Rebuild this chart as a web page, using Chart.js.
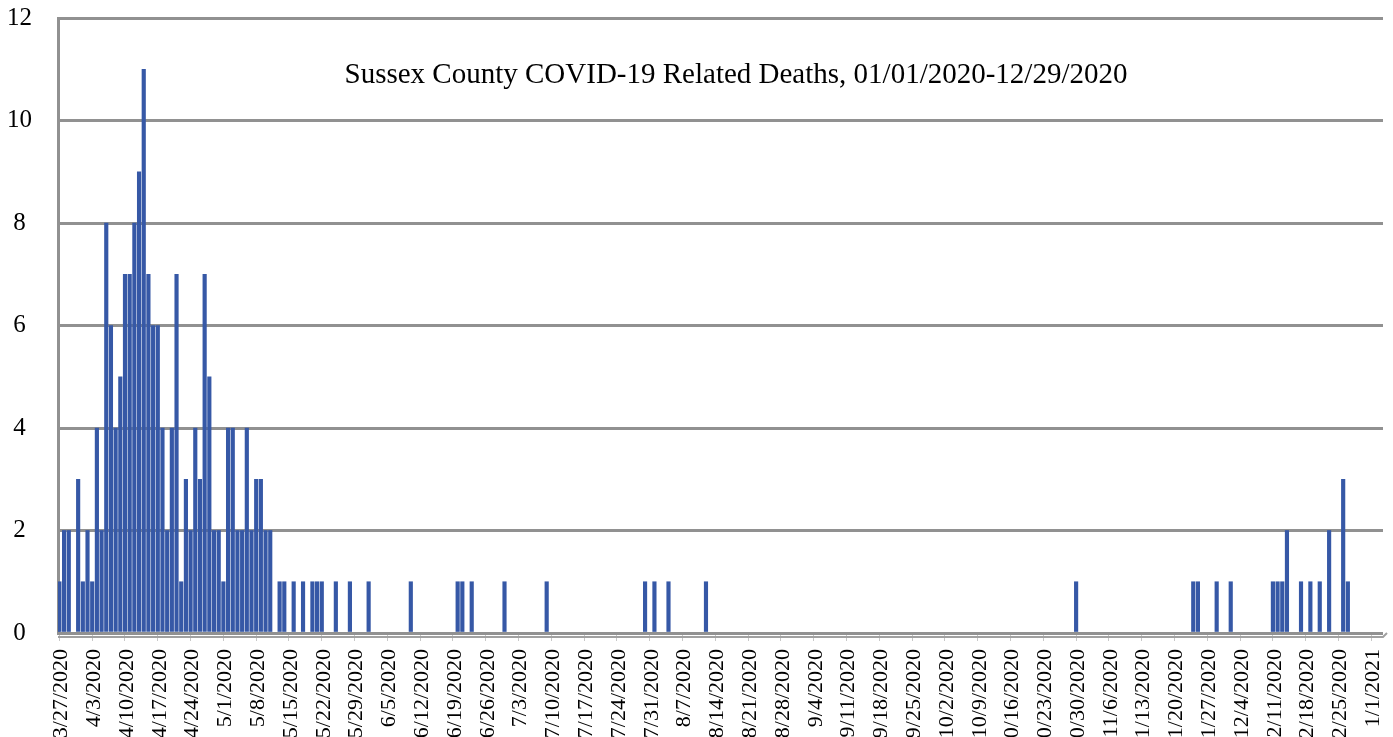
<!DOCTYPE html>
<html>
<head>
<meta charset="utf-8">
<script src="https://cdn.jsdelivr.net/npm/chart.js@4.4.1/dist/chart.umd.min.js"></script>
<style>
  html, body { margin: 0; padding: 0; background: #fff; overflow: hidden; }
  #clip { width: 1393px; height: 737px; overflow: hidden; }
  #box { width: 1393px; height: 752px; }
</style>
</head>
<body>
<div id="clip"><div id="box"><canvas id="chart"></canvas></div></div>
<script>
/* eslint-disable no-undef */
const chartTitle = 'Sussex County COVID-19 Related Deaths, 01/01/2020-12/29/2020'
const startDate = '3/27/2020'

// weekly labels on the date axis
const tickLabels = [
  '3/27/2020', '4/3/2020', '4/10/2020', '4/17/2020', '4/24/2020', '5/1/2020', '5/8/2020',
  '5/15/2020', '5/22/2020', '5/29/2020', '6/5/2020', '6/12/2020', '6/19/2020', '6/26/2020',
  '7/3/2020', '7/10/2020', '7/17/2020', '7/24/2020', '7/31/2020', '8/7/2020', '8/14/2020',
  '8/21/2020', '8/28/2020', '9/4/2020', '9/11/2020', '9/18/2020', '9/25/2020', '10/2/2020',
  '10/9/2020', '10/16/2020', '10/23/2020', '10/30/2020', '11/6/2020', '11/13/2020',
  '11/20/2020', '11/27/2020', '12/4/2020', '12/11/2020', '12/18/2020', '12/25/2020', '1/1/2021'
]

// days with at least one death (all other days are 0)
const deathDates = [
  '3/27/2020', '3/28/2020', '3/29/2020', '3/31/2020', '4/1/2020', '4/2/2020', '4/3/2020',
  '4/4/2020', '4/5/2020', '4/6/2020', '4/7/2020', '4/8/2020', '4/9/2020', '4/10/2020',
  '4/11/2020', '4/12/2020', '4/13/2020', '4/14/2020', '4/15/2020', '4/16/2020', '4/17/2020',
  '4/18/2020', '4/19/2020', '4/20/2020', '4/21/2020', '4/22/2020', '4/23/2020', '4/24/2020',
  '4/25/2020', '4/26/2020', '4/27/2020', '4/28/2020', '4/29/2020', '4/30/2020', '5/1/2020',
  '5/2/2020', '5/3/2020', '5/4/2020', '5/5/2020', '5/6/2020', '5/7/2020', '5/8/2020',
  '5/9/2020', '5/10/2020', '5/11/2020', '5/13/2020', '5/14/2020', '5/16/2020', '5/18/2020',
  '5/20/2020', '5/21/2020', '5/22/2020', '5/25/2020', '5/28/2020', '6/1/2020', '6/10/2020',
  '6/20/2020', '6/21/2020', '6/23/2020', '6/30/2020', '7/9/2020', '7/30/2020', '8/1/2020',
  '8/4/2020', '8/12/2020', '10/30/2020', '11/24/2020', '11/25/2020', '11/29/2020',
  '12/2/2020', '12/11/2020', '12/12/2020', '12/13/2020', '12/14/2020', '12/17/2020',
  '12/19/2020', '12/21/2020', '12/23/2020', '12/26/2020', '12/27/2020'
]
const deathCounts = [
  1, 2, 2, 3, 1, 2, 1,
  4, 2, 8, 6, 4, 5, 7,
  7, 8, 9, 11, 7, 6, 6,
  4, 2, 4, 7, 1, 3, 2,
  4, 3, 7, 5, 2, 2, 1,
  4, 4, 2, 2, 4, 2, 3,
  3, 2, 2, 1, 1, 1, 1,
  1, 1, 1, 1, 1, 1, 1,
  1, 1, 1, 1, 1, 1, 1,
  1, 1, 1, 1, 1, 1,
  1, 1, 1, 1, 2, 1,
  1, 1, 2, 3, 1
]

const dayIndex = d => Math.round((new Date(d) - new Date(startDate)) / 864e5)
const points = deathDates.map((d, i) => ({ x: dayIndex(d), y: deathCounts[i] }))

const serif = "'Liberation Serif', 'Times New Roman', serif"
const gridGrey = '#919191'

// title sits inside the plot, plus the second floor line under the axis
const excelBits = {
  id: 'excelBits',
  afterDraw (chart) {
    const { ctx, chartArea } = chart
    ctx.save()
    ctx.strokeStyle = '#a0a0a0'
    ctx.lineWidth = 2
    ctx.beginPath()
    ctx.moveTo(chartArea.left, chartArea.bottom + 4)
    ctx.lineTo(chartArea.right, chartArea.bottom + 4)
    ctx.lineTo(chartArea.right + 4, chartArea.bottom)
    ctx.stroke()
    ctx.fillStyle = '#000'
    ctx.font = '29px ' + serif
    ctx.textAlign = 'center'
    ctx.textBaseline = 'middle'
    ctx.fillText(chartTitle, 736, 75)
    ctx.restore()
  }
}

const chartElement = document.getElementById('chart').getContext('2d')

const deathsChart = new Chart(chartElement, {
  type: 'bar',
  data: {
    datasets: [{
      label: 'Deaths',
      data: points,
      backgroundColor: '#3658a6',
      borderWidth: 0,
      barThickness: 3.5
    }]
  },
  options: {
    responsive: true,
    maintainAspectRatio: false,
    animation: false,
    layout: { padding: { top: 18, right: 10, left: 0, bottom: 0 } },
    plugins: {
      legend: { display: false },
      tooltip: { enabled: false }
    },
    scales: {
      x: {
        type: 'linear',
        min: -0.3,
        max: 282.5,
        offset: false,
        afterBuildTicks: s => { s.ticks = tickLabels.map((_, i) => ({ value: i * 7 })) },
        afterFit: s => {
          s.height = 119
          s.paddingLeft = 0
          s.paddingRight = 0
        },
        border: { display: false },
        grid: {
          offset: false,
          drawOnChartArea: false,
          color: '#c8c8c8',
          tickLength: 8
        },
        ticks: {
          autoSkip: false,
          minRotation: 90,
          maxRotation: 90,
          padding: 8,
          labelOffset: 2,
          color: '#000',
          font: { family: serif, size: 22 },
          callback: v => tickLabels[v / 7]
        }
      },
      y: {
        min: 0,
        max: 12,
        afterFit: s => {
          s.width = 58
          s.paddingTop = 0
          s.paddingBottom = 0
        },
        border: { display: true, color: gridGrey, width: 3 },
        grid: { color: gridGrey, lineWidth: 3, drawTicks: false },
        ticks: {
          stepSize: 2,
          padding: 26,
          crossAlign: 'center',
          color: '#000',
          font: { family: serif, size: 25 }
        }
      }
    }
  },
  plugins: [excelBits]
})
</script>
</body>
</html>
